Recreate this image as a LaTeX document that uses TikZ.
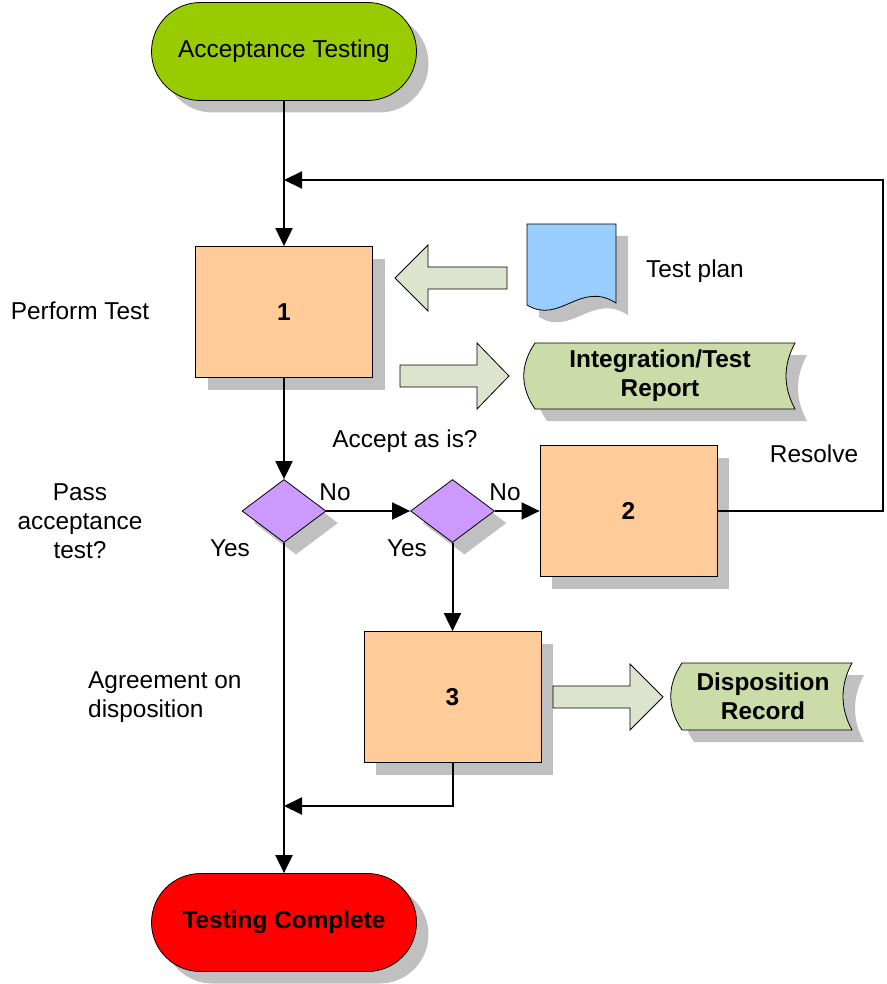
\documentclass[tikz,border=0pt]{standalone}
\usepackage{fontspec}
\setmainfont{Liberation Sans}
\usetikzlibrary{shapes.geometric,shadows,arrows.meta}
\definecolor{startgreen}{HTML}{99CC00}
\definecolor{endred}{HTML}{FF0000}
\definecolor{procorange}{HTML}{FFCC99}
\definecolor{decpurple}{HTML}{CC99FF}
\definecolor{docblue}{HTML}{99CCFF}
\definecolor{datagreen}{HTML}{CCDCA8}
\definecolor{arrowfill}{HTML}{DDE4CE}
\definecolor{shadowgray}{HTML}{C0C0C0}

\begin{document}
\begin{tikzpicture}[x=1pt,y=-1pt,
  every node/.style={font=\fontsize{24.4}{29}\selectfont, inner sep=0pt},
  boldtext/.style={font=\fontsize{24.4}{29}\selectfont\bfseries},
  shade12/.style={drop shadow={shadow xshift=12pt,shadow yshift=-12pt,fill=shadowgray,opacity=1}},
  outline/.style={draw, line width=0.8pt},
  terminal/.style={outline, minimum width=265pt, minimum height=98pt, rounded corners=49pt, shade12},
  process/.style={outline, fill=procorange, minimum width=177pt, minimum height=131pt, shade12, boldtext},
  decision/.style={outline, fill=decpurple, diamond, minimum width=84pt, minimum height=63pt, shade12},
  flow/.style={line width=2pt, -{Triangle[length=18pt,width=17pt]}},
  fatarrow/.style={outline, fill=arrowfill},
  store/.style={outline, fill=datagreen, shade12},
  caption/.style={align=center}]
\useasboundingbox (0,0) rectangle (886,984);

% terminals
\node[terminal, fill=startgreen] (start) at (284,51.5) {Acceptance Testing};
\node[terminal, fill=endred, boldtext] (finish) at (284,922.5) {Testing Complete};

% process steps
\node[process] (p1) at (284,312) {1};
\node[process] (p2) at (628.5,511) {2};
\node[process] (p3) at (452.5,697) {3};

% decisions
\node[decision] (d1) at (284,511) {};
\node[decision] (d2) at (452.5,511) {};

% test plan document
\path[outline, fill=docblue, shade12] (527,224) -- (616,224) -- (616,303)
  .. controls (580,280) and (560,325) .. (527,305) -- cycle;
\node[caption] (plan) at (695,271) {Test plan};

% stored records
\path[store] (535,343) -- (795,343) .. controls (783,365) and (783,387) .. (795,409)
  -- (535,409) .. controls (520,387) and (520,365) .. (535,343) -- cycle;
\node[caption, boldtext] (report) at (660,376) {Integration/Test\\Report};
\path[store] (682,663) -- (852,663) .. controls (840,685) and (840,708) .. (852,730)
  -- (682,730) .. controls (667,708) and (667,685) .. (682,663) -- cycle;
\node[caption, boldtext] (record) at (763,696.5) {Disposition\\Record};

% block arrows for inputs and outputs
\path[fatarrow] (395,278) -- (428,245) -- (428,267) -- (507,267) -- (507,289)
  -- (428,289) -- (428,311) -- cycle;
\path[fatarrow] (509,376) -- (477,343) -- (477,365) -- (400,365) -- (400,387)
  -- (477,387) -- (477,409) -- cycle;
\path[fatarrow] (663,697) -- (630,664) -- (630,686) -- (553,686) -- (553,708)
  -- (630,708) -- (630,730) -- cycle;

% labels
\node[caption] (perform) at (80,311) {Perform Test};
\node[caption] (pass) at (80,521) {Pass\\acceptance\\test?};
\node[caption] (accept) at (405,441) {Accept as is?};
\node[caption] (resolve) at (814,454) {Resolve};
\node (no1) at (335,492) {No};
\node (no2) at (505,492) {No};
\node (yes1) at (230,548) {Yes};
\node (yes2) at (407,548) {Yes};
\node[align=left, anchor=west] (agree) at (88,697) {Agreement on\\disposition};

% connectors
\coordinate (loopR) at (883,180);
\coordinate (loopL) at (284,180);
\coordinate (merge) at (284,806);
\draw[flow] (start.south) -- (p1.north);
\draw[flow] (p2.east) -| (loopR) -- (loopL);
\draw[flow] (p1.south) -- (d1.north);
\draw[flow] (d1.east) -- (d2.west);
\draw[flow] (d2.east) -- (p2.west);
\draw[flow] (d2.south) -- (p3.north);
\draw[flow] (d1.south) -- (finish.north);
\draw[flow] (p3.south) |- (merge);
\end{tikzpicture}
\end{document}
